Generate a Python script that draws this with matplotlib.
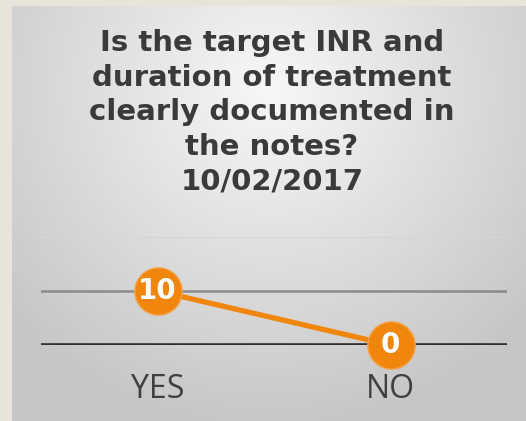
import numpy as np
import matplotlib
matplotlib.use("Agg")
import matplotlib.pyplot as plt

categories = ["YES", "NO"]
values = [10, 0]
grid_levels = [0, 10, 20]
title = "Is the target INR and\nduration of treatment\nclearly documented in\nthe notes?\n10/02/2017"

orange = "#F0860C"

fig = plt.figure(figsize=(5.26, 4.21), dpi=100)
fig.patch.set_facecolor("#E9E4DA")

# gray gradient panel behind everything
bg = fig.add_axes([12 / 526, 0, 514 / 526, 415 / 421])
bg.set_axis_off()
yy, xx = np.mgrid[0:1:300j, 0:1:300j]
d = np.sqrt(((xx - 0.5) * 1.1) ** 2 + ((yy - 0.2) * 0.9) ** 2)
shade = np.clip(0.97 - 0.26 * d, 0.78, 0.97)
bg.imshow(np.dstack([shade] * 3), aspect="auto", extent=[0, 1, 1, 0])

fig.text(272 / 526, 1 - 29 / 421, title, ha="center", va="top",
         fontsize=21, fontweight="bold", color="#3A3A3A",
         family="DejaVu Sans", linespacing=1.3)

ax = fig.add_axes([41 / 526, 76 / 421, 466 / 526, 108 / 421])
ax.patch.set_alpha(0)
ax.set_xlim(-0.5, len(categories) - 0.5)
ax.set_ylim(0, 20)
for s in ax.spines.values():
    s.set_visible(False)

styles = {0: ("#2E2E2E", 2.6), 10: ("#8A8A8A", 1.8), 20: ("#D6D6D6", 1.0)}
for lvl in grid_levels:
    c, lw = styles[lvl]
    ax.axhline(lvl, color=c, lw=lw, zorder=1)

x = np.arange(len(categories))
ax.plot(x, values, color=orange, lw=3.8, marker="o", ms=34,
        markerfacecolor=orange, markeredgecolor="#F4A24A", markeredgewidth=1,
        zorder=3, clip_on=False)
for xi, v in zip(x, values):
    ax.text(xi, v, str(v), ha="center", va="center", color="white",
            fontsize=20, fontweight="bold", family="DejaVu Sans", zorder=4)

ax.set_yticks([])
ax.set_xticks(x)
ax.set_xticklabels(categories, fontsize=23, color="#404040", family="Open Sans")
ax.tick_params(axis="x", length=0, pad=20)

fig.savefig("out.png", dpi=100, facecolor=fig.get_facecolor())
